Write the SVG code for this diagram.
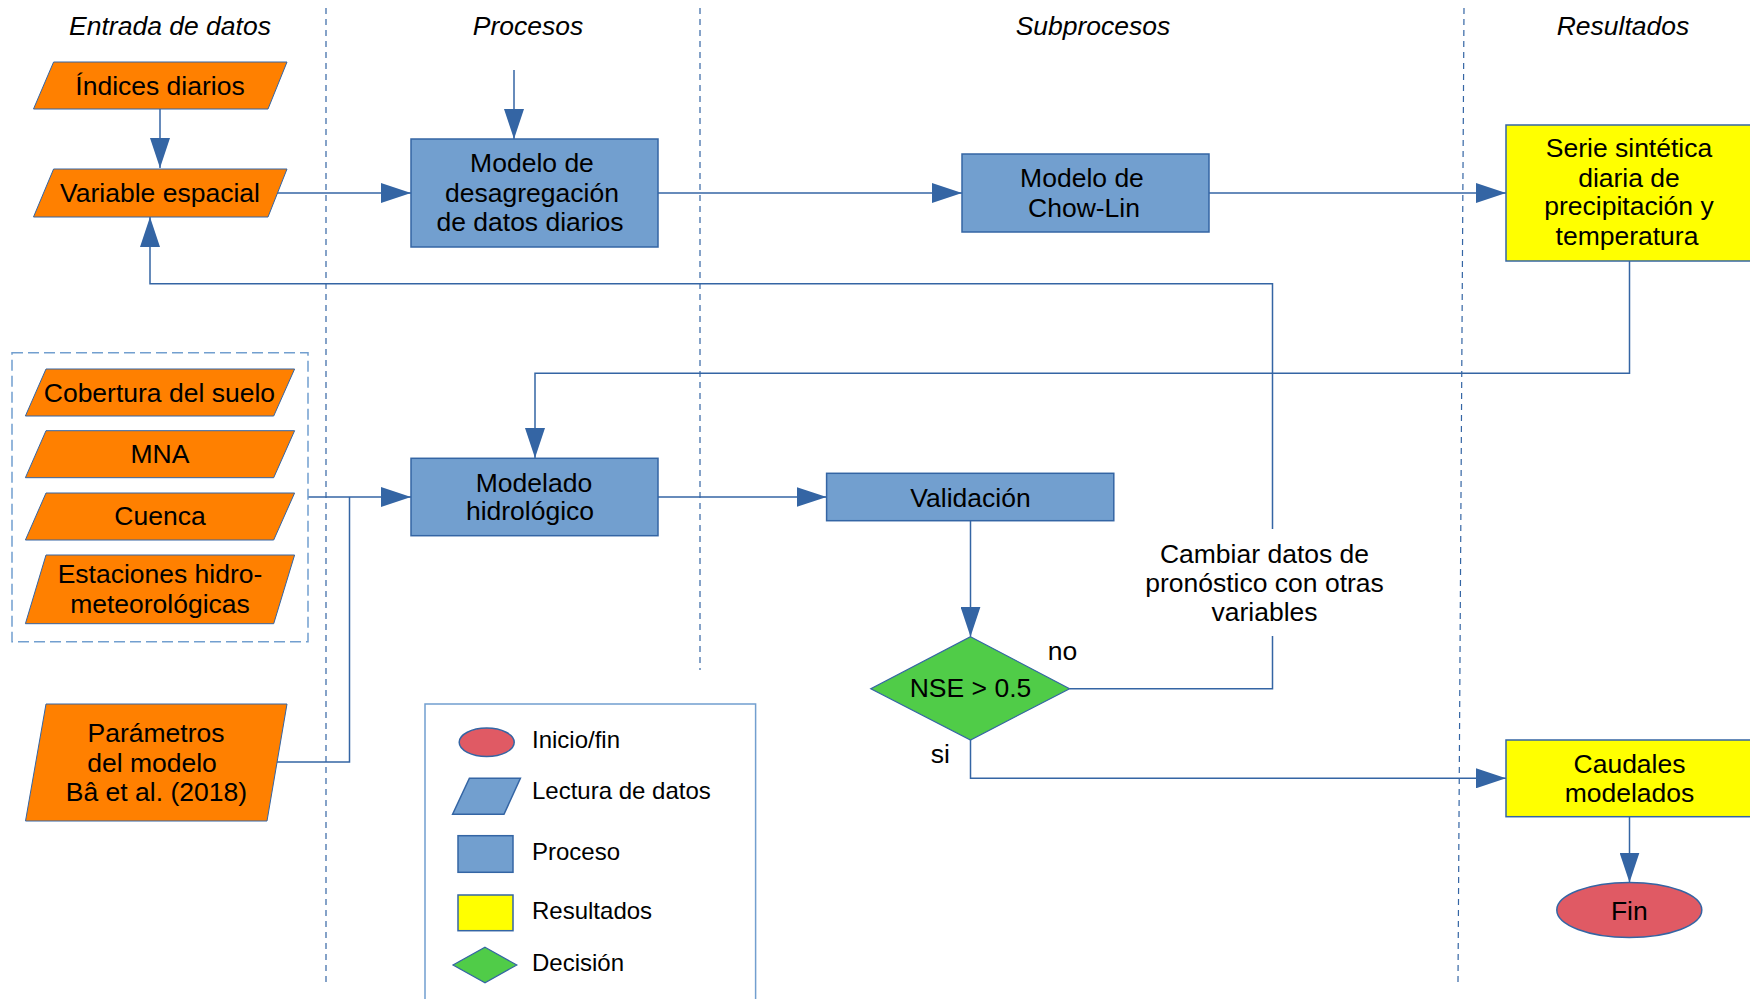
<svg xmlns="http://www.w3.org/2000/svg" width="1750" height="999" viewBox="0 0 1750 999">
<style>
text{font-family:"Liberation Sans",Arial,sans-serif;fill:#000}
.hdr{font-size:26.5px;font-style:italic;text-anchor:middle}
.lbl{font-size:26.5px;text-anchor:middle}
.leg{font-size:24px}
.inp{fill:#ff8000;stroke:#3465a4;stroke-width:1}
.proc{fill:#729fcf;stroke:#3465a4;stroke-width:1.5}
.res{fill:#ffff00;stroke:#3465a4;stroke-width:1.5}
.dec{fill:#50cc48;stroke:#3465a4;stroke-width:1.2}
.term{fill:#e05a64;stroke:#3465a4;stroke-width:1.5}
.div{stroke:#3465a4;stroke-width:1.2;stroke-dasharray:6,5;fill:none}
.conn{stroke:#3465a4;stroke-width:1.5;fill:none}
.arr{marker-end:url(#ah)}
</style>
<defs>
<marker id="ah" viewBox="0 0 30 20" refX="30" refY="10" markerWidth="30" markerHeight="20" markerUnits="userSpaceOnUse" orient="auto">
<path d="M0,0 L30,10 L0,20 z" fill="#3465a4"/>
</marker>
</defs>
<rect width="1750" height="999" fill="#fff"/>

<g id="lanes">
<line class="div" x1="326" y1="8" x2="326" y2="982"/>
<line class="div" x1="700" y1="8" x2="700" y2="670"/>
<line class="div" x1="1464" y1="8" x2="1458" y2="982"/>
<text class="hdr" x="170" y="35">Entrada de datos</text>
<text class="hdr" x="528" y="35">Procesos</text>
<text class="hdr" x="1093" y="35">Subprocesos</text>
<text class="hdr" x="1623" y="35">Resultados</text>
</g>

<g id="connectors">
<line class="conn arr" x1="160" y1="109" x2="160" y2="168"/>
<line class="conn arr" x1="514" y1="70" x2="514" y2="139"/>
<line class="conn arr" x1="277" y1="193" x2="411" y2="193"/>
<line class="conn arr" x1="658" y1="193" x2="962" y2="193"/>
<line class="conn arr" x1="1209" y1="193" x2="1506" y2="193"/>
<polyline class="conn arr" points="1629.5,261 1629.5,373.3 535,373.3 535,458"/>
<line class="conn arr" x1="308" y1="497" x2="411" y2="497"/>
<polyline class="conn" points="277,762 349.5,762 349.5,497"/>
<line class="conn arr" x1="658" y1="497" x2="826.6" y2="497"/>
<line class="conn arr" x1="970.5" y1="520.7" x2="970.5" y2="636.7"/>
<polyline class="conn" points="1069.6,688.7 1272.5,688.7 1272.5,636"/>
<polyline class="conn arr" points="1272.5,529 1272.5,283.7 150,283.7 150,217"/>
<polyline class="conn arr" points="970.5,740 970.5,778.3 1506,778.3"/>
<line class="conn arr" x1="1629.5" y1="816.7" x2="1629.5" y2="882.5"/>
<text class="lbl" x="1264.5" y="562.7">Cambiar datos de</text>
<text class="lbl" x="1264.5" y="591.7">pronóstico con otras</text>
<text class="lbl" x="1264.5" y="621">variables</text>
<text class="lbl" x="1062.6" y="660">no</text>
<text class="lbl" x="940.4" y="762.7">si</text>
</g>

<g id="indices">
<polygon class="inp" points="53.6,62 287,62 268,109 33.5,109"/>
<text class="lbl" x="160" y="95">Índices diarios</text>
</g>
<g id="variable">
<polygon class="inp" points="53.6,169 287,169 268,217 33.5,217"/>
<text class="lbl" x="160" y="202">Variable espacial</text>
</g>
<g id="desagregacion">
<rect class="proc" x="411" y="139" width="247" height="108"/>
<text class="lbl" x="532" y="172">Modelo de</text>
<text class="lbl" x="532" y="202">desagregación</text>
<text class="lbl" x="530" y="231">de datos diarios</text>
</g>
<g id="chowlin">
<rect class="proc" x="962" y="154" width="247" height="78"/>
<text class="lbl" x="1082" y="187">Modelo de</text>
<text class="lbl" x="1084" y="217">Chow-Lin</text>
</g>
<g id="serie">
<rect class="res" x="1506" y="125" width="247" height="136"/>
<text class="lbl" x="1629" y="157">Serie sintética</text>
<text class="lbl" x="1629" y="187">diaria de</text>
<text class="lbl" x="1629" y="215">precipitación y</text>
<text class="lbl" x="1627" y="245">temperatura</text>
</g>

<g id="grupo-entradas">
<rect x="12" y="352.7" width="296" height="289" fill="none" stroke="#729fcf" stroke-width="1.5" stroke-dasharray="11,5"/>
</g>
<g id="cobertura">
<polygon class="inp" points="46,369 294.6,369 273.7,416 25.4,416"/>
<text class="lbl" x="159.4" y="401.7">Cobertura del suelo</text>
</g>
<g id="mna">
<polygon class="inp" points="46,430.7 294.6,430.7 273.7,477.7 25.4,477.7"/>
<text class="lbl" x="160" y="463.3">MNA</text>
</g>
<g id="cuenca">
<polygon class="inp" points="46,493 294.6,493 273.7,540 25.4,540"/>
<text class="lbl" x="160" y="525">Cuenca</text>
</g>
<g id="estaciones">
<polygon class="inp" points="46,555 294.6,555 273.7,623.7 25.4,623.7"/>
<text class="lbl" x="160" y="583.3">Estaciones hidro-</text>
<text class="lbl" x="160" y="612.7">meteorológicas</text>
</g>
<g id="parametros">
<polygon class="inp" points="46,704 287,704 267,821 25.5,821"/>
<text class="lbl" x="156" y="741.7">Parámetros</text>
<text class="lbl" x="152" y="771.7">del modelo</text>
<text class="lbl" x="156.4" y="800.7">Bâ et al. (2018)</text>
</g>

<g id="modelado">
<rect class="proc" x="411" y="458.3" width="247" height="77.4"/>
<text class="lbl" x="534" y="491.7">Modelado</text>
<text class="lbl" x="530" y="520">hidrológico</text>
</g>
<g id="validacion">
<rect class="proc" x="826.6" y="473.3" width="287.2" height="47.4"/>
<text class="lbl" x="970.5" y="506.7">Validación</text>
</g>
<g id="nse">
<polygon class="dec" points="970.5,636.7 1069.6,688.7 970.5,740 870.8,688.7"/>
<text class="lbl" x="970.5" y="697.3">NSE &gt; 0.5</text>
</g>
<g id="caudales">
<rect class="res" x="1506" y="740" width="247" height="76.7"/>
<text class="lbl" x="1629.5" y="772.7">Caudales</text>
<text class="lbl" x="1629.5" y="801.7">modelados</text>
</g>
<g id="fin">
<ellipse class="term" cx="1629.3" cy="910" rx="72.5" ry="27.5"/>
<text class="lbl" x="1629.3" y="920">Fin</text>
</g>

<g id="leyenda">
<rect x="425" y="704" width="330.6" height="310" fill="none" stroke="#729fcf" stroke-width="1.5"/>
<ellipse class="term" cx="486.7" cy="742.3" rx="27.5" ry="14.2"/>
<text class="leg" x="532" y="747.7">Inicio/fin</text>
<polygon class="proc" points="469.4,778.3 520.4,778.3 504,814.3 452.6,814.3" stroke-width="1"/>
<text class="leg" x="532" y="799.3">Lectura de datos</text>
<rect class="proc" x="458" y="835.7" width="55" height="36.6"/>
<text class="leg" x="532" y="860">Proceso</text>
<rect class="res" x="458" y="895" width="55" height="35.7"/>
<text class="leg" x="532" y="919">Resultados</text>
<polygon class="dec" points="485,947.3 516.8,965 485,982.7 453,965"/>
<text class="leg" x="532" y="971">Decisión</text>
</g>
</svg>
